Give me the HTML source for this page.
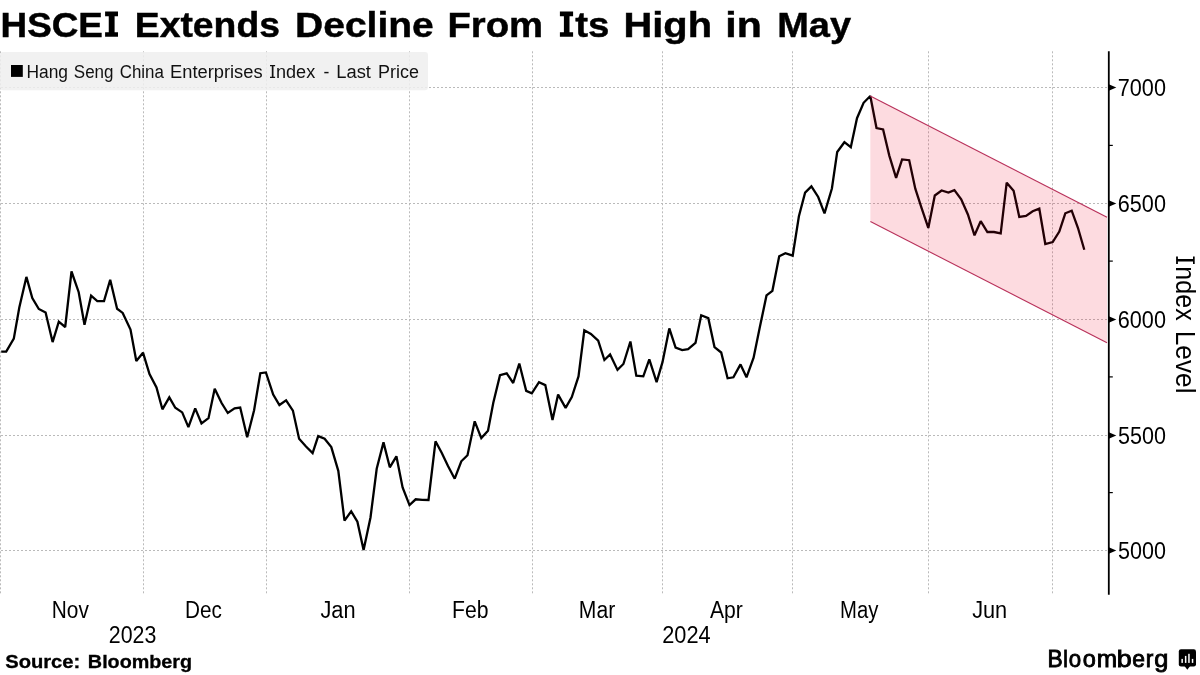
<!DOCTYPE html>
<html><head><meta charset="utf-8"><style>
html,body{margin:0;padding:0;background:#fff;}
body{width:1200px;height:675px;overflow:hidden;position:relative;font-family:"Liberation Sans",sans-serif;}
svg{position:absolute;left:0;top:0;will-change:transform;}
</style></head><body>
<svg width="1200" height="675" viewBox="0 0 1200 675" font-family="Liberation Sans, sans-serif">
<rect width="1200" height="675" fill="#fff"/>
<g stroke="#bababa" stroke-width="1" stroke-dasharray="2,2" fill="none"><g stroke-dashoffset="3"><line x1="0" y1="87.5" x2="1107.8" y2="87.5"/><line x1="0" y1="203.5" x2="1107.8" y2="203.5"/><line x1="0" y1="319.5" x2="1107.8" y2="319.5"/><line x1="0" y1="435.5" x2="1107.8" y2="435.5"/><line x1="0" y1="550.5" x2="1107.8" y2="550.5"/></g><line x1="0.5" y1="51.3" x2="0.5" y2="593.8"/><line x1="143.5" y1="51.3" x2="143.5" y2="593.8"/><line x1="266.5" y1="51.3" x2="266.5" y2="593.8"/><line x1="409.5" y1="51.3" x2="409.5" y2="593.8"/><line x1="532.5" y1="51.3" x2="532.5" y2="593.8"/><line x1="662.5" y1="51.3" x2="662.5" y2="593.8"/><line x1="792.5" y1="51.3" x2="792.5" y2="593.8"/><line x1="928.5" y1="51.3" x2="928.5" y2="593.8"/><line x1="1052.5" y1="51.3" x2="1052.5" y2="593.8"/></g>
<rect x="0" y="52" width="428" height="38.3" rx="3" fill="#eeeeee" fill-opacity="0.85"/>
<path d="M1.2,351.6 L6.2,351.6 L13.8,338.7 L19.3,307.6 L26.4,276.9 L32.3,298 L38.8,309 L45.6,312.5 L52.6,342.1 L58.8,321.7 L65.2,327 L71.5,271.5 L78.7,292.2 L84.5,324.7 L91.1,295.7 L97.3,301.1 L104,301.1 L110.2,279.7 L117.1,308.8 L122.7,312.9 L130.5,329.5 L136.3,361 L143,352.7 L149.5,374 L156.5,387.5 L162.4,409.3 L169.3,397.4 L175.3,407.8 L182.2,412.4 L188.4,427.1 L195.2,408.4 L201.5,423.4 L208.5,418.2 L214.7,388.7 L221.6,403 L227.8,413 L234.6,408.4 L240.2,407.6 L247.2,437.3 L254.1,410.2 L260.3,373.2 L265.9,372.4 L273.2,394.6 L279.4,405 L286.1,400.4 L292.9,410.6 L299.1,438.8 L306,446.5 L312.6,453.1 L318.2,436.1 L324.6,438.8 L331.3,447.1 L338.3,470.8 L344.5,520.6 L351.2,511.3 L357.4,521.7 L363.6,550.1 L370.5,517.5 L376.7,468.8 L383.5,442.4 L389.8,467.3 L396.4,456.3 L402.6,487.4 L409.5,505.1 L415.7,499.3 L422.3,499.9 L428.5,500 L435.5,441.3 L441.8,453 L448,466 L454.7,478.7 L461.3,461.3 L467.5,455.2 L474.7,421.3 L481.3,438.1 L488,430.7 L493.3,402.7 L500,375.2 L506.7,373.3 L513.2,383 L519.3,363.5 L526.2,390.9 L531.8,393.4 L539,382.2 L545.3,385.1 L552.5,420 L558.1,394.6 L565.6,407.9 L571.8,397.1 L578.5,376.4 L584.3,330.3 L590.9,333.9 L598.2,340.7 L604.4,360 L610.1,354.5 L617.5,369.9 L623.4,364 L630.4,341.5 L636.3,375.6 L643.3,376.3 L649.3,359.3 L656.6,382.2 L662.5,362.2 L669.3,328.4 L675.6,347.7 L682.2,350.1 L688.1,349.2 L695.5,343 L701.2,315.3 L708.3,318.2 L714.5,347.1 L721.2,352.5 L727.6,378.3 L733.4,377.3 L740.5,364.4 L746.5,377.3 L753.6,357.7 L759.7,327.8 L766.5,295.4 L772.4,290.8 L779.2,256.3 L785.4,253.2 L792.7,255.7 L798.9,216.2 L805.1,192.7 L811.4,186.4 L818.2,197 L824.5,213.4 L831.9,188.5 L837.2,152 L844.4,142.2 L850.8,147.2 L857,118.2 L863.6,102.8 L870.3,96 L876.5,128 L883.1,129.4 L889.3,155.6 L896.1,177.9 L902.1,159.4 L909.2,160.2 L915.3,188.7 L921.7,208.3 L928.3,227.9 L934.8,195.5 L941.6,190.5 L948.4,192.6 L954.4,190.1 L961.2,199.4 L967.9,214.5 L974.5,235.3 L980.7,221.2 L987.4,232 L994,232 L1000.7,233.3 L1006.7,182.7 L1013.6,190.7 L1019.3,216.9 L1026,216 L1032.7,211.3 L1039.3,208.7 L1045.3,244 L1052.7,242 L1059.3,231.6 L1065.3,213.3 L1071.7,210.7 L1078,228 L1084.3,249.7" fill="none" stroke="#000" stroke-width="2.3" stroke-linejoin="miter" stroke-miterlimit="2"/>
<path d="M870.3,96.0 L1107.0,217.3 L1107.0,342.8 L870.4,221.5Z" fill="rgb(240,0,35)" fill-opacity="0.14"/>
<g stroke="#b8305a" stroke-width="1.1" fill="none"><line x1="870.3" y1="96.0" x2="1107.0" y2="217.3"/><line x1="870.4" y1="221.5" x2="1107.0" y2="342.8"/></g>
<line x1="1108.8" y1="51.3" x2="1108.8" y2="594.8" stroke="#000" stroke-width="1.8"/>
<g fill="#000"><path d="M1108.8,84.3 L1116.3,87.5 L1108.8,90.7Z"/><path d="M1108.8,200.3 L1116.3,203.5 L1108.8,206.7Z"/><path d="M1108.8,316.3 L1116.3,319.5 L1108.8,322.7Z"/><path d="M1108.8,432.3 L1116.3,435.5 L1108.8,438.7Z"/><path d="M1108.8,547.3 L1116.3,550.5 L1108.8,553.7Z"/></g>
<g stroke="#000" stroke-width="1.2"><line x1="1108.8" y1="145.4" x2="1112.8" y2="145.4"/><line x1="1108.8" y1="261.1" x2="1112.8" y2="261.1"/><line x1="1108.8" y1="376.9" x2="1112.8" y2="376.9"/><line x1="1108.8" y1="492.6" x2="1112.8" y2="492.6"/></g>
<g id="ylab"><text x="1117.79" y="96.1" font-size="23.3" fill="#000" textLength="48.16" lengthAdjust="spacingAndGlyphs">7000</text><text x="1117.80" y="212.1" font-size="23.3" fill="#000" textLength="48.14" lengthAdjust="spacingAndGlyphs">6500</text><text x="1117.80" y="328.1" font-size="23.3" fill="#000" textLength="48.14" lengthAdjust="spacingAndGlyphs">6000</text><text x="1118.04" y="444.1" font-size="23.3" fill="#000" textLength="47.90" lengthAdjust="spacingAndGlyphs">5500</text><text x="1118.04" y="559.1" font-size="23.3" fill="#000" textLength="47.90" lengthAdjust="spacingAndGlyphs">5000</text></g>
<g id="months"><text x="51.79" y="617.7" font-size="23.0" fill="#000" textLength="37.08" lengthAdjust="spacingAndGlyphs">Nov</text><text x="185.00" y="617.7" font-size="23.0" fill="#000" textLength="36.85" lengthAdjust="spacingAndGlyphs">Dec</text><text x="320.46" y="617.7" font-size="23.0" fill="#000" textLength="35.16" lengthAdjust="spacingAndGlyphs">Jan</text><text x="451.97" y="617.7" font-size="23.0" fill="#000" textLength="36.42" lengthAdjust="spacingAndGlyphs">Feb</text><text x="578.87" y="617.7" font-size="23.0" fill="#000" textLength="36.38" lengthAdjust="spacingAndGlyphs">Mar</text><text x="709.96" y="617.7" font-size="23.0" fill="#000" textLength="32.89" lengthAdjust="spacingAndGlyphs">Apr</text><text x="840.04" y="617.7" font-size="23.0" fill="#000" textLength="38.30" lengthAdjust="spacingAndGlyphs">May</text><text x="972.16" y="617.7" font-size="23.0" fill="#000" textLength="35.05" lengthAdjust="spacingAndGlyphs">Jun</text><text x="108.83" y="643.0" font-size="23.1" fill="#000" textLength="47.51" lengthAdjust="spacingAndGlyphs">2023</text><text x="662.21" y="643.0" font-size="23.1" fill="#000" textLength="48.43" lengthAdjust="spacingAndGlyphs">2024</text></g>
<g id="ilab"><text x="266.33" y="0" font-size="26.8" fill="#000" transform="translate(1176,0) rotate(90)" textLength="54.44" lengthAdjust="spacingAndGlyphs">ndex</text><text x="330.74" y="0" font-size="26.8" fill="#000" transform="translate(1176,0) rotate(90)" textLength="62.81" lengthAdjust="spacingAndGlyphs">Level</text><path d="M1176.1,256.4 H1177.9 V259.1 H1193 V256.4 H1194.7 V264 H1193 V261.4 H1177.9 V264 H1176.1Z" fill="#000"/></g>
<g id="title"><text x="0.53" y="36.8" font-size="35.3" fill="#000" font-weight="bold" textLength="102.41" lengthAdjust="spacingAndGlyphs" stroke="#000" stroke-width="0.45">HSCE</text><text x="134.80" y="36.8" font-size="35.3" fill="#000" font-weight="bold" textLength="145.13" lengthAdjust="spacingAndGlyphs" stroke="#000" stroke-width="0.45">Extends</text><text x="295.09" y="36.8" font-size="35.3" fill="#000" font-weight="bold" textLength="138.64" lengthAdjust="spacingAndGlyphs" stroke="#000" stroke-width="0.45">Decline</text><text x="447.44" y="36.8" font-size="35.3" fill="#000" font-weight="bold" textLength="95.63" lengthAdjust="spacingAndGlyphs" stroke="#000" stroke-width="0.45">From</text><text x="575.23" y="36.8" font-size="35.3" fill="#000" font-weight="bold" textLength="34.14" lengthAdjust="spacingAndGlyphs" stroke="#000" stroke-width="0.45">ts</text><text x="623.54" y="36.8" font-size="35.3" fill="#000" font-weight="bold" textLength="88.43" lengthAdjust="spacingAndGlyphs" stroke="#000" stroke-width="0.45">High</text><text x="725.33" y="36.8" font-size="35.3" fill="#000" font-weight="bold" textLength="36.52" lengthAdjust="spacingAndGlyphs" stroke="#000" stroke-width="0.45">in</text><text x="777.16" y="36.8" font-size="35.3" fill="#000" font-weight="bold" textLength="73.84" lengthAdjust="spacingAndGlyphs" stroke="#000" stroke-width="0.45">May</text><path d="M105.1,11.4 H118 V16.3 H114.6 V32.3 H118 V36.7 H105.1 V32.3 H108.75 V16.3 H105.1Z" fill="#000"/><path d="M559.9,11.4 H573.1 V16.3 H569.5 V32.3 H573.1 V36.7 H559.9 V32.3 H563.9 V16.3 H559.9Z" fill="#000"/></g>
<rect x="11" y="65" width="11.8" height="11.9" fill="#000"/>
<g id="legend"><text x="26.47" y="77.7" font-size="18.0" fill="#111" textLength="41.55" lengthAdjust="spacingAndGlyphs">Hang</text><text x="73.83" y="77.7" font-size="18.0" fill="#111" textLength="39.67" lengthAdjust="spacingAndGlyphs">Seng</text><text x="119.74" y="77.7" font-size="18.0" fill="#111" textLength="44.16" lengthAdjust="spacingAndGlyphs">China</text><text x="170.00" y="77.7" font-size="18.0" fill="#111" textLength="92.56" lengthAdjust="spacingAndGlyphs">Enterprises</text><text x="276.00" y="77.7" font-size="18.0" fill="#111" textLength="39.19" lengthAdjust="spacingAndGlyphs">ndex</text><text x="323.52" y="77.7" font-size="18.0" fill="#111" textLength="5.87" lengthAdjust="spacingAndGlyphs">-</text><text x="336.19" y="77.7" font-size="18.0" fill="#111" textLength="34.74" lengthAdjust="spacingAndGlyphs">Last</text><text x="378.03" y="77.7" font-size="18.0" fill="#111" textLength="40.87" lengthAdjust="spacingAndGlyphs">Price</text><path d="M270.0,65.1 H275.1 V66.3 H273.5 V76.7 H275.1 V77.9 H270.0 V76.7 H271.8 V66.3 H270.0Z" fill="#111"/></g>
<g id="source"><text x="5.22" y="667.7" font-size="17.5" fill="#000" font-weight="bold" textLength="75.02" lengthAdjust="spacingAndGlyphs" stroke="#000" stroke-width="0.3">Source:</text><text x="87.88" y="667.7" font-size="17.5" fill="#000" font-weight="bold" textLength="104.24" lengthAdjust="spacingAndGlyphs" stroke="#000" stroke-width="0.3">Bloomberg</text></g>
<g id="bbg"><text x="1047.59" y="667.0" font-size="24.0" fill="#000" textLength="15.16" lengthAdjust="spacingAndGlyphs" stroke="#000" stroke-width="0.9">B</text><text x="1063.37" y="667.0" font-size="24.0" fill="#000" textLength="4.55" lengthAdjust="spacingAndGlyphs" stroke="#000" stroke-width="0.9">l</text><text x="1068.82" y="667.0" font-size="24.0" fill="#000" textLength="12.37" lengthAdjust="spacingAndGlyphs" stroke="#000" stroke-width="0.9">o</text><text x="1082.76" y="667.0" font-size="24.0" fill="#000" textLength="13.07" lengthAdjust="spacingAndGlyphs" stroke="#000" stroke-width="0.9">o</text><text x="1096.83" y="667.0" font-size="24.0" fill="#000" textLength="20.33" lengthAdjust="spacingAndGlyphs" stroke="#000" stroke-width="0.9">m</text><text x="1116.72" y="667.0" font-size="24.0" fill="#000" textLength="14.96" lengthAdjust="spacingAndGlyphs" stroke="#000" stroke-width="0.9">b</text><text x="1132.18" y="667.0" font-size="24.0" fill="#000" textLength="12.68" lengthAdjust="spacingAndGlyphs" stroke="#000" stroke-width="0.9">e</text><text x="1145.64" y="667.0" font-size="24.0" fill="#000" textLength="7.59" lengthAdjust="spacingAndGlyphs" stroke="#000" stroke-width="0.9">r</text><text x="1154.39" y="667.0" font-size="24.0" fill="#000" textLength="14.10" lengthAdjust="spacingAndGlyphs" stroke="#000" stroke-width="0.9">g</text></g>
<g id="icon">
<rect x="1178.8" y="649.2" width="17.2" height="17.3" rx="2.2" fill="#000"/>
<path d="M1184.5,666 L1187.3,669.8 L1190.1,666Z" fill="#000"/>
<g fill="#fff"><rect x="1181.4" y="658.9" width="1.5" height="4"/><rect x="1184.9" y="655.9" width="1.5" height="7"/><rect x="1188.2" y="653.8" width="1.5" height="9.1"/><rect x="1191.8" y="658.9" width="1.5" height="4"/></g>
</g>
</svg>
</body></html>
